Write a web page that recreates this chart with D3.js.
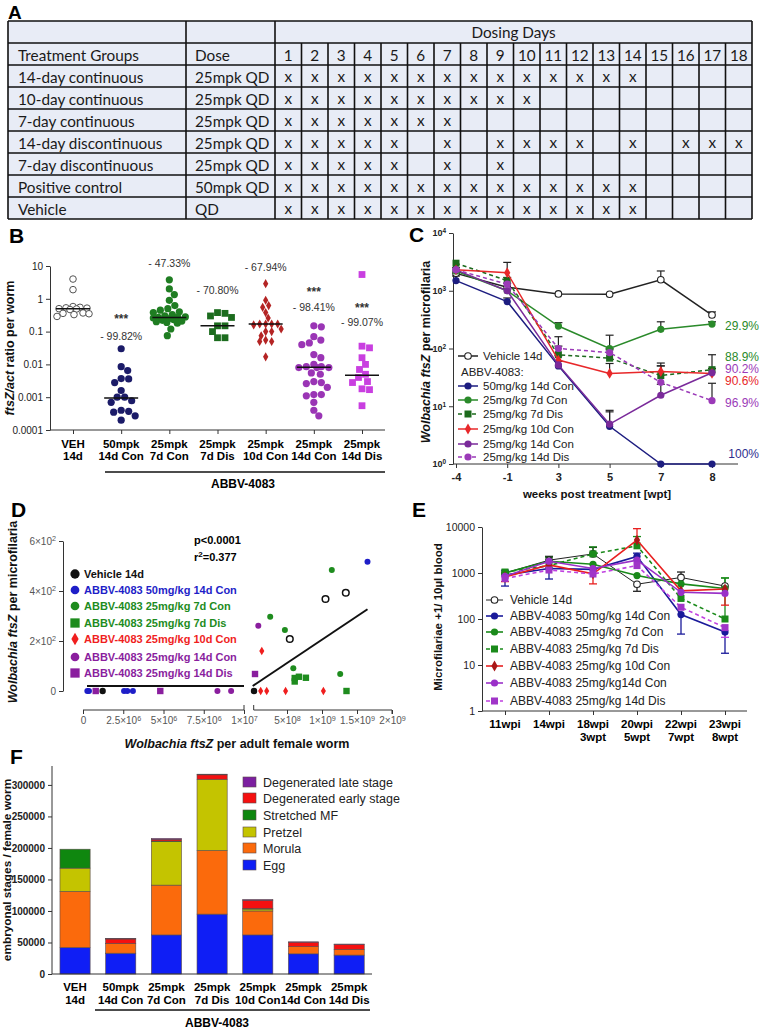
<!DOCTYPE html>
<html><head><meta charset="utf-8">
<script src="https://cdn.jsdelivr.net/npm/d3@7"></script>
<style>
body{margin:0;background:#fff;}
svg{display:block;font-family:"Liberation Sans",Arial,sans-serif;}
</style></head><body>
<svg id="c" width="760" height="1029"></svg>
<script>
// ================= DATA =================
// Panel A
const tblGroups = ["14-day continuous","10-day continuous","7-day continuous","14-day discontinuous","7-day discontinuous","Positive control","Vehicle"];
const tblDoses = ["25mpk QD","25mpk QD","25mpk QD","25mpk QD","25mpk QD","50mpk QD","QD"];
const tblDays = [1,2,3,4,5,6,7,8,9,10,11,12,13,14,15,16,17,18];
const tblSchedule = [
  [1,2,3,4,5,6,7,8,9,10,11,12,13,14],
  [1,2,3,4,5,6,7,8,9,10],
  [1,2,3,4,5,6,7],
  [1,2,3,4,5,7,9,10,11,12,14,16,17,18],
  [1,2,3,4,5,7,9],
  [1,2,3,4,5,6,7,8,9,10,11,12,13,14],
  [1,2,3,4,5,6,7,8,9,10,11,12,13,14]
];
// Panel B
const bCatLine1 = ["VEH","50mpk","25mpk","25mpk","25mpk","25mpk","25mpk"];
const bCatLine2 = ["14d","14d Con","7d Con","7d Dis","10d Con","14d Con","14d Dis"];
const bVEH = [4.0,1.9,0.58,0.55,0.53,0.52,0.5,0.49,0.47,0.37,0.36,0.35,0.33,0.29];
const b50Con14 = [0.03,0.0085,0.0065,0.0037,0.0036,0.0028,0.0016,0.001,0.001,0.00078,0.0007,0.0004,0.00037,0.00035,0.00027,0.0002];
const b25Con7 = [3.8,2.0,1.35,0.9,0.62,0.5,0.45,0.4,0.38,0.33,0.3,0.28,0.27,0.27,0.26,0.25,0.23,0.22,0.21,0.2,0.19,0.18,0.12,0.075];
const b25Dis7 = [0.38,0.36,0.3,0.27,0.15,0.15,0.1,0.065,0.065];
const b25Con10 = [2.9,0.9,0.62,0.55,0.38,0.26,0.17,0.17,0.17,0.17,0.16,0.12,0.1,0.1,0.075,0.055,0.05,0.05,0.017];
const b25Con14 = [0.15,0.14,0.07,0.055,0.045,0.04,0.02,0.016,0.01,0.0085,0.0085,0.008,0.008,0.008,0.0055,0.005,0.003,0.0028,0.0026,0.002,0.0012,0.0012,0.0011,0.0007,0.0004,0.00027];
const b25Dis14 = [5.5,0.036,0.032,0.016,0.01,0.007,0.005,0.004,0.003,0.0028,0.0018,0.0017,0.00055];
const bMedians = [0.5,0.00095,0.27,0.15,0.17,0.0082,0.0047];
const bPercents = ["","- 99.82%","- 47.33%","- 70.80%","- 67.94%","- 98.41%","- 99.07%"];
const bStars = ["","***","","","","***","***"];
const bTickVals = [0.0001,0.001,0.01,0.1,1,10];
const bTickLabels = ["0.0001","0.001","0.01","0.1","1","10"];
// Panel C
const cTimes = ["-4","-1","3","5","7","8"];
const cNames = ["Vehicle 14d","50mg/kg 14d Con","25mg/kg 7d Con","25mg/kg 7d Dis","25mg/kg 10d Con","25mg/kg 14d Con","25mg/kg 14d Dis"];
const cVehicle = [2000,1150,880,870,1550,380];
const c50Con14 = [1500,650,50,4.5,1,1];
const c25Con7 = [2200,1000,245,100,215,265];
const c25Dis7 = [3000,1500,78,68,34,43];
const c25Con10 = [2300,2050,63,37,40,37];
const c25Con14 = [2300,1000,52,4.9,15.5,38];
const c25Dis14 = [2300,1300,100,85,26,12.5];
const cErrVehicle = [null,1350,null,null,2200,430];
const cErr50Con14 = [1800,750,60,8.5,null,null];
const cErr25Con7 = [2500,1100,280,170,290,290];
const cErr25Dis7 = [null,1700,160,95,56,78];
const cErr25Con10 = [null,3100,75,55,50,45];
const cErr25Con14 = [null,null,60,8,24,45];
const cErr25Dis14 = [null,null,110,100,50,25];
const cReduction = ["","100%","29.9%","88.9%","90.6%","90.2%","96.9%"];
const cTickVals = [1,10,100,1000,10000];
// Panel D
const dNames = ["Vehicle 14d","ABBV-4083 50mg/kg 14d Con","ABBV-4083 25mg/kg 7d Con","ABBV-4083 25mg/kg 7d Dis","ABBV-4083 25mg/kg 10d Con","ABBV-4083 25mg/kg 14d Con","ABBV-4083 25mg/kg 14d Dis"];
const dVehicle = [[1.22e6,0],[2.9e7,0],[5.4e8,208],[1.05e9,368],[1.34e9,393]];
const d50Con14 = [[2.7e5,0],[3.7e5,0],[2.55e6,0],[2.75e6,0],[3.1e6,0],[1.65e9,517]];
const d25Con7 = [[2.6e8,297],[4.7e8,244],[5.9e8,91],[1.14e9,484],[1.26e9,68]];
const d25Dis7 = [[6.1e8,52],[6.1e8,38],[6.7e8,57],[7.7e8,53],[1.35e9,0]];
const d25Con10 = [[1.4e8,160],[1.24e8,0],[2.1e8,0],[4.8e8,0],[1.02e9,0]];
const d25Con14 = [[8.35e6,0],[9.2e6,0],[9e7,261]];
const d25Dis14 = [[7.9e5,0],[4.8e6,0],[4.3e7,68]];
const dFitLeft = [[2.5e5,20],[1e7,20]];
const dFitRight = [[1e7,20],[1.65e9,327]];
const dTicksLeft = [0,2.5e6,5e6,7.5e6,1e7];
const dTicksRight = [5e8,1e9,1.5e9,2e9];
const dTicksY = [0,200,400,600];
const dStats = ["p<0.0001","r","2","=0.377"];
// Panel E
const eTimes1 = ["11wpi","14wpi","18wpi","20wpi","22wpi","23wpi"];
const eTimes2 = ["","","3wpt","5wpt","7wpt","8wpt"];
const eNames = ["Vehicle 14d","ABBV-4083 50mg/kg 14d Con","ABBV-4083 25mg/kg 7d Con","ABBV-4083 25mg/kg 7d Dis","ABBV-4083 25mg/kg 10d Con","ABBV-4083 25mg/kg14d Con","ABBV-4083 25mg/kg 14d Dis"];
const eVehicle = [1000,1900,2600,570,800,520];
const e50Con14 = [900,1250,1200,2300,125,52];
const e25Con7 = [1000,1800,1550,880,580,460];
const e25Dis7 = [1050,1450,2600,3900,280,100];
const e25Con10 = [820,1500,960,5200,410,450];
const e25Con14 = [850,1800,1250,1900,380,360];
const e25Dis14 = [760,1160,950,1450,180,65];
const eLoVehicle = [null,null,null,400,null,null], eHiVehicle = [null,2300,3600,null,1050,null];
const eLo50Con14 = [520,740,null,1900,47,18], eHi50Con14 = [1150,null,null,2700,null,null];
const eLo25Con7 = [null,null,null,null,null,null], eHi25Con7 = [null,2200,null,null,null,780];
const eLo25Dis7 = [null,null,null,null,null,null], eHi25Dis7 = [null,null,3700,6200,null,780];
const eLo25Con10 = [650,null,580,null,null,200], eHi25Con10 = [null,null,null,9200,null,null];
const eLo25Con14 = [null,null,null,null,null,null], eHi25Con14 = [null,null,null,null,null,null];
const eLo25Dis14 = [null,null,null,null,null,40], eHi25Dis14 = [null,null,null,null,null,null];
const eTickVals = [1,10,100,1000,10000];
// Panel F
const fCats1 = ["VEH","50mpk","25mpk","25mpk","25mpk","25mpk","25mpk"];
const fCats2 = ["14d","14d Con","7d Con","7d Dis","10d Con","14d Con","14d Dis"];
const fKeys = ["Egg","Morula","Pretzel","Stretched MF","Degenerated early stage","Degenerated late stage"];
const fEgg = [42000,33000,62000,95000,62000,32000,30000];
const fMorula = [89000,15500,79000,101000,38000,11500,9000];
const fPretzel = [37000,0,69000,113000,3000,0,0];
const fStretched = [30000,0,1000,0,1000,0,0];
const fDegEarly = [0,7000,2500,7000,13000,7000,8000];
const fDegLate = [0,1000,1500,1000,1000,500,500];
const fTicks = [0,50000,100000,150000,200000,250000,300000];

// ================= DRAWING =================
const svg = d3.select("#c");
const AX = "#333";
function panelLabel(t,x,y){svg.append("text").attr("x",x).attr("y",y).attr("font-size",21).attr("font-weight","bold").attr("fill","#000").text(t);}
function vTitle(x,y,parts,size){
  const t=svg.append("text").attr("transform",`translate(${x},${y}) rotate(-90)`).attr("text-anchor","middle").attr("font-size",size).attr("font-weight","bold").attr("fill","#111");
  parts.forEach(([s,it])=>t.append("tspan").attr("font-style",it?"italic":"normal").text(s));
}
function hTitle(x,y,parts,size){
  const t=svg.append("text").attr("x",x).attr("y",y).attr("text-anchor","middle").attr("font-size",size).attr("font-weight","bold").attr("fill","#111");
  parts.forEach(([s,it])=>t.append("tspan").attr("font-style",it?"italic":"normal").text(s));
}
function styleAxis(g,size,weight){
  g.attr("font-family",'"Liberation Sans",Arial,sans-serif').attr("font-size",size).attr("font-weight",weight||"normal");
  g.selectAll("path,line").attr("stroke",AX).attr("stroke-width",1);
  g.selectAll("text").attr("fill","#222");
}
function supify(sel,base,exp){sel.text(null);sel.append("tspan").text(base);sel.append("tspan").attr("dy","-0.45em").attr("font-size","0.72em").text(exp);}
function sym(type,size){return d3.symbol().type(type).size(size)();}

// ---------- Panel A ----------
svg.append("text").attr("x",8).attr("y",19).attr("font-size",19).attr("font-weight","bold").text("A");
const aX0=8,aX1=752,aC1=186,aC2=275,aY0=21,aRH=22,nRows=9;
const dayX=d3.scaleBand().domain(tblDays).range([aC2,aX1]);
const rowY=d3.scaleBand().domain(d3.range(nRows)).range([aY0,aY0+nRows*aRH]);
const gA=svg.append("g").attr("font-family","Lato, 'Open Sans', sans-serif").attr("font-size",15.3).attr("fill","#1a1a1a");
gA.append("rect").attr("x",aX0).attr("y",aY0).attr("width",aX1-aX0).attr("height",nRows*aRH).attr("fill","#e8ecf6");
for(let i=0;i<=nRows;i++){const y=aY0+i*aRH;gA.append("line").attr("x1",aX0).attr("x2",aX1).attr("y1",y).attr("y2",y).attr("stroke","#111").attr("stroke-width",1.6);}
[aX0,aC1,aC2,aX1].forEach(x=>gA.append("line").attr("x1",x).attr("x2",x).attr("y1",aY0).attr("y2",aY0+nRows*aRH).attr("stroke","#111").attr("stroke-width",1.6));
tblDays.slice(1).forEach(d=>{const x=dayX(d);gA.append("line").attr("x1",x).attr("x2",x).attr("y1",aY0+aRH).attr("y2",aY0+nRows*aRH).attr("stroke","#111").attr("stroke-width",1.6);});
gA.append("text").attr("x",(aC2+aX1)/2).attr("y",rowY(0)+17).attr("text-anchor","middle").text("Dosing Days");
gA.append("text").attr("x",18).attr("y",rowY(1)+17.5).text("Treatment Groups");
gA.append("text").attr("x",195).attr("y",rowY(1)+17.5).text("Dose");
tblDays.forEach(d=>gA.append("text").attr("x",dayX(d)+dayX.bandwidth()/2).attr("y",rowY(1)+17.5).attr("text-anchor","middle").text(d));
tblGroups.forEach((g,i)=>{
  const y=rowY(i+2)+17.5;
  gA.append("text").attr("x",18).attr("y",y).text(g);
  gA.append("text").attr("x",195).attr("y",y).text(tblDoses[i]);
  tblSchedule[i].forEach(d=>gA.append("text").attr("x",dayX(d)+dayX.bandwidth()/2).attr("y",y-0.5).attr("text-anchor","middle").text("x"));
});

// ---------- Panel B ----------
panelLabel("B",9,243);
const bY=d3.scaleLog().domain([1e-4,10]).range([430,266]);
const bX=d3.scalePoint().domain(d3.range(7)).range([73,362]);
const gBy=svg.append("g").attr("transform","translate(50,0)").call(d3.axisLeft(bY).tickValues(bTickVals).tickFormat((d,i)=>bTickLabels[i]).tickSize(4).tickSizeOuter(0));
styleAxis(gBy,10);
const gBx=svg.append("g").attr("transform","translate(0,430)").call(d3.axisBottom(bX).tickFormat("").tickSize(4).tickSizeOuter(0));
gBx.select(".domain").attr("d","M50,0H385");
styleAxis(gBx,10);
vTitle(14,348,[["ftsZ/act",true],[" ratio per worm",false]],12.5);
bCatLine1.forEach((t,i)=>{
  svg.append("text").attr("x",bX(i)).attr("y",448).attr("text-anchor","middle").attr("font-size",11.5).attr("font-weight","bold").text(t);
  svg.append("text").attr("x",bX(i)).attr("y",460).attr("text-anchor","middle").attr("font-size",11.5).attr("font-weight","bold").text(bCatLine2[i]);
});
svg.append("line").attr("x1",105).attr("x2",385).attr("y1",472).attr("y2",472).attr("stroke","#111").attr("stroke-width",1.6);
svg.append("text").attr("x",243).attr("y",488).attr("text-anchor","middle").attr("font-size",12).attr("font-weight","bold").text("ABBV-4083");
const bSeries=[bVEH,b50Con14,b25Con7,b25Dis7,b25Con10,b25Con14,b25Dis14];
const bStyle=[
  {shape:"oc",color:"#555",r:3.3},{shape:"c",color:"#1b1b68",r:3.6},{shape:"c",color:"#1f7d22",r:3.6},{shape:"s",color:"#1c6c1e",r:3.6},
  {shape:"d",color:"#b42424",r:2.8},{shape:"c",color:"#9a35b5",r:3.6},{shape:"s",color:"#c93fe0",r:3.6}];
function swarm(vals,yS,cx,r,maxOff){
  const pts=vals.map(v=>({v,y:yS(v)})).sort((a,b)=>a.y-b.y);
  const placed=[];
  pts.forEach(p=>{
    let best=null,bestScore=-1,bestX=cx;
    for(let d=0;d<=maxOff&&best===null;d+=0.5){
      for(const s of (d===0?[1]:[1,-1])){
        const x=cx+s*d;
        const md=placed.length?d3.min(placed,q=>Math.hypot(q.x-x,q.y-p.y)):99;
        if(md>=2*r+0.3){best=x;break;}
        if(md>bestScore){bestScore=md;bestX=x;}
      }
    }
    p.x=best===null?bestX:best;placed.push(p);
  });
  return placed;
}
bSeries.forEach((vals,i)=>{
  const st=bStyle[i];const r=st.r;
  const pts=swarm(vals,bY,bX(i),r,16);
  const g=svg.append("g");
  pts.forEach(p=>{
    if(st.shape==="oc") g.append("circle").attr("cx",p.x).attr("cy",p.y).attr("r",3.3).attr("fill","#fff").attr("stroke",st.color).attr("stroke-width",1);
    else if(st.shape==="c") g.append("circle").attr("cx",p.x).attr("cy",p.y).attr("r",r).attr("fill",st.color);
    else if(st.shape==="s") g.append("rect").attr("x",p.x-3.4).attr("y",p.y-3.4).attr("width",6.8).attr("height",6.8).attr("fill",st.color);
    else g.append("path").attr("d",sym(d3.symbolDiamond,24)).attr("transform",`translate(${p.x},${p.y})`).attr("fill",st.color);
  });
  svg.append("line").attr("x1",bX(i)-17).attr("x2",bX(i)+17).attr("y1",bY(bMedians[i])).attr("y2",bY(bMedians[i])).attr("stroke","#111").attr("stroke-width",1.5);
});
const bPctY=[0,339.5,266.5,293.5,270.5,310.5,325.5];
const bStarY=[0,323,0,0,0,296,312];
bPercents.forEach((t,i)=>{if(t)svg.append("text").attr("x",bX(i)).attr("y",bPctY[i]).attr("text-anchor","middle").attr("font-size",10.5).attr("fill","#333").text(t);});
bStars.forEach((t,i)=>{if(t)svg.append("text").attr("x",bX(i)).attr("y",bStarY[i]).attr("text-anchor","middle").attr("font-size",12).attr("font-weight","bold").attr("fill","#333").text(t);});

// ---------- Panel C ----------
panelLabel("C",409,242);
const cX=d3.scalePoint().domain(cTimes).range([456,712]);
const cY=d3.scaleLog().domain([1,1e4]).range([464,233]);
const gCy=svg.append("g").attr("transform","translate(453,0)").call(d3.axisLeft(cY).tickValues(cTickVals).tickSize(4).tickSizeOuter(0));
styleAxis(gCy,9,"bold");
gCy.selectAll(".tick text").each(function(d){supify(d3.select(this),"10",String(Math.round(Math.log10(d))));});
const gCx=svg.append("g").attr("transform","translate(0,464)").call(d3.axisBottom(cX).tickSize(4).tickSizeOuter(0));
gCx.select(".domain").attr("d","M453,0H738");
styleAxis(gCx,11,"bold");
gCx.selectAll(".tick text").attr("dy","0.95em");
hTitle(597,498,[["weeks post treatment [wpt]",false]],11.5);
vTitle(430,352,[["Wolbachia ftsZ",true],[" per microfilaria",false]],12.5);
const cSeries=[cVehicle,c50Con14,c25Con7,c25Dis7,c25Con10,c25Con14,c25Dis14];
const cErr=[cErrVehicle,cErr50Con14,cErr25Con7,cErr25Dis7,cErr25Con10,cErr25Con14,cErr25Dis14];
const cStyle=[
  {color:"#222",shape:"oc",dash:null},{color:"#1d1d80",shape:"c",dash:null},{color:"#2a8a2a",shape:"c",dash:null},
  {color:"#1c6a1c",shape:"s",dash:"4,3"},{color:"#e8282a",shape:"d",dash:null},{color:"#7a2a9a",shape:"c",dash:null},{color:"#9b3ab8",shape:"c",dash:"4,3"}];
function marker(g,shape,x,y,color,sc){
  sc=sc||1;
  if(shape==="oc") g.append("circle").attr("cx",x).attr("cy",y).attr("r",3.3*sc).attr("fill","#fff").attr("stroke",color).attr("stroke-width",1.1);
  else if(shape==="c") g.append("circle").attr("cx",x).attr("cy",y).attr("r",3.6*sc).attr("fill",color);
  else if(shape==="s") g.append("rect").attr("x",x-3.5*sc).attr("y",y-3.5*sc).attr("width",7*sc).attr("height",7*sc).attr("fill",color);
  else g.append("path").attr("d",sym(d3.symbolDiamond,34*sc*sc)).attr("transform",`translate(${x},${y})`).attr("fill",color);
}
const cLine=d3.line().x((d,i)=>cX(cTimes[i])).y(d=>cY(d));
cSeries.forEach((vals,k)=>{
  const g=svg.append("g");
  cErr[k].forEach((e,i)=>{if(e!==null){const x=cX(cTimes[i]);
    g.append("line").attr("x1",x).attr("x2",x).attr("y1",cY(vals[i])).attr("y2",cY(e)).attr("stroke","#222").attr("stroke-width",1.2);
    g.append("line").attr("x1",x-4).attr("x2",x+4).attr("y1",cY(e)).attr("y2",cY(e)).attr("stroke","#222").attr("stroke-width",1.2);}});
});
cSeries.forEach((vals,k)=>{
  const st=cStyle[k];const g=svg.append("g");
  g.append("path").attr("d",cLine(vals)).attr("fill","none").attr("stroke",st.color).attr("stroke-width",1.5).attr("stroke-dasharray",st.dash);
  vals.forEach((v,i)=>marker(g,st.shape,cX(cTimes[i]),cY(v),st.color));
});
const cPctY=[0,458,330,361,385,373,407];
const cPctColor=["","#2e2e8e","#2a8a2a","#2a8a2a","#e8282a","#9b3ab8","#9b3ab8"];
cReduction.forEach((t,k)=>{if(t)svg.append("text").attr("x",759).attr("y",cPctY[k]).attr("text-anchor","end").attr("font-size",12).attr("fill",cPctColor[k]).text(t);});
const cLegY=[356,386,400,414,429,444,457];
cNames.forEach((n,k)=>{
  const st=cStyle[k];const y=cLegY[k];
  svg.append("line").attr("x1",458).attr("x2",478).attr("y1",y).attr("y2",y).attr("stroke",st.color).attr("stroke-width",1.5).attr("stroke-dasharray",st.dash);
  marker(svg,st.shape,468,y,st.color);
  svg.append("text").attr("x",483).attr("y",y+4).attr("font-size",11.5).attr("fill","#222").text(n);
});
svg.append("text").attr("x",461).attr("y",376).attr("font-size",11.5).attr("fill","#222").text("ABBV-4083:");

// ---------- Panel D ----------
panelLabel("D",11,517);
const dY=d3.scaleLinear().domain([0,600]).range([691,541]);
const dXL=d3.scaleLinear().domain([0,1e7]).range([83,244]);
const dXR=d3.scaleLinear().domain([0,2e9]).range([252,392]);
function expFmt(v){if(v===0)return null;const e=Math.floor(Math.log10(v)+1e-9);const m=+(v/Math.pow(10,e)).toFixed(2);return [m+"×10",String(e)];}
const gDy=svg.append("g").attr("transform","translate(63,0)").call(d3.axisLeft(dY).tickValues(dTicksY).tickSize(4).tickSizeOuter(0));
styleAxis(gDy,10);
gDy.selectAll(".tick text").attr("fill","#555").each(function(d){const f=expFmt(d);if(f)supify(d3.select(this),f[0],f[1]);});
const gDxl=svg.append("g").attr("transform","translate(0,710)").call(d3.axisBottom(dXL).tickValues(dTicksLeft).tickSize(4).tickSizeOuter(0));
const gDxr=svg.append("g").attr("transform","translate(0,710)").call(d3.axisBottom(dXR).tickValues(dTicksRight).tickSize(4).tickSizeOuter(0));
gDxr.select(".domain").attr("d",`M${dXR(1e7)+1},-5V0H${dXR(2e9)}V4`);
gDxl.select(".domain").attr("d",`M${dXL(0)},0H${dXL(1e7)}V-5`);
[gDxl,gDxr].forEach(g=>{styleAxis(g,10);g.selectAll(".tick text").attr("fill","#555").each(function(d){const f=expFmt(d);if(f)supify(d3.select(this),f[0],f[1]);});});
hTitle(237,748,[["Wolbachia ftsZ",true],[" per adult female worm",false]],12.5);
vTitle(17,612,[["Wolbachia ftsZ",true],[" per microfilaria",false]],12.5);
const dFitLine=(pts,xs)=>d3.line().x(d=>xs(d[0])).y(d=>dY(d[1]))(pts);
svg.append("path").attr("d",dFitLine(dFitLeft,dXL)).attr("stroke","#111").attr("stroke-width",2).attr("fill","none");
svg.append("path").attr("d",dFitLine(dFitRight,dXR)).attr("stroke","#111").attr("stroke-width",2).attr("fill","none");
const dSeries=[dVehicle,d50Con14,d25Con7,d25Dis7,d25Con10,d25Con14,d25Dis14];
const dStyle=[{c:"#111",s:"v"},{c:"#1e1ec8",s:"c"},{c:"#1e8c1e",s:"c"},{c:"#1e8c1e",s:"s"},{c:"#f01e1e",s:"d"},{c:"#8a1e9e",s:"c"},{c:"#8a1e9e",s:"s"}];
function dMark(g,st,x,y,open,sc){
  sc=sc||1;
  if(st.s==="v"){ if(open) g.append("circle").attr("cx",x).attr("cy",y).attr("r",3.3*sc).attr("fill","#fff").attr("stroke",st.c).attr("stroke-width",1.5);
                  else g.append("circle").attr("cx",x).attr("cy",y).attr("r",3.2*sc).attr("fill",st.c);}
  else if(st.s==="c") g.append("circle").attr("cx",x).attr("cy",y).attr("r",3*sc).attr("fill",st.c);
  else if(st.s==="s") g.append("rect").attr("x",x-3.2*sc).attr("y",y-3.2*sc).attr("width",6.4*sc).attr("height",6.4*sc).attr("fill",st.c);
  else g.append("path").attr("d",sym(d3.symbolDiamond,22*sc*sc)).attr("transform",`translate(${x},${y})`).attr("fill",st.c);
}
dSeries.forEach((pts,k)=>{
  const g=svg.append("g");
  pts.forEach(([xv,yv])=>{const xs=xv<1e7?dXL:dXR;dMark(g,dStyle[k],xs(xv),dY(yv),yv>0);});
});
const dLegY=[574,590,606,623,639,657,673];
dNames.forEach((n,k)=>{
  dMark(svg,dStyle[k],75,dLegY[k],false,1.45);
  svg.append("text").attr("x",84).attr("y",dLegY[k]+4).attr("font-size",11).attr("font-weight","bold").attr("fill",dStyle[k].c).text(n);
});
svg.append("text").attr("x",194).attr("y",544).attr("font-size",11).attr("font-weight","bold").text(dStats[0]);
const rt=svg.append("text").attr("x",194).attr("y",561).attr("font-size",11).attr("font-weight","bold");
rt.append("tspan").text(dStats[1]);rt.append("tspan").attr("dy",-4).attr("font-size",8).text(dStats[2]);rt.append("tspan").attr("dy",4).text(dStats[3]);

// ---------- Panel E ----------
panelLabel("E",412,517);
const eX=d3.scalePoint().domain(eTimes1).range([505,725]);
const eY=d3.scaleLog().domain([1,1e4]).range([711,527]);
const gEy=svg.append("g").attr("transform","translate(482,0)").call(d3.axisLeft(eY).tickValues(eTickVals).tickFormat(d3.format("d")).tickSize(4).tickSizeOuter(0));
styleAxis(gEy,10.5);
const gEx=svg.append("g").attr("transform","translate(0,711)").call(d3.axisBottom(eX).tickFormat("").tickSize(4).tickSizeOuter(0));
gEx.select(".domain").attr("d","M482,0H747");
styleAxis(gEx,11);
eTimes1.forEach((t,i)=>{
  svg.append("text").attr("x",eX(t)).attr("y",728).attr("text-anchor","middle").attr("font-size",11.5).attr("font-weight","bold").text(t);
  if(eTimes2[i]) svg.append("text").attr("x",eX(t)).attr("y",741).attr("text-anchor","middle").attr("font-size",11.5).attr("font-weight","bold").text(eTimes2[i]);
});
vTitle(442,617,[["Microfilariae +1/ 10µl blood",false]],11.5);
const eSeries=[eVehicle,e50Con14,e25Con7,e25Dis7,e25Con10,e25Con14,e25Dis14];
const eLo=[eLoVehicle,eLo50Con14,eLo25Con7,eLo25Dis7,eLo25Con10,eLo25Con14,eLo25Dis14];
const eHi=[eHiVehicle,eHi50Con14,eHi25Con7,eHi25Dis7,eHi25Con10,eHi25Con14,eHi25Dis14];
const eStyle=[
  {color:"#222",shape:"oc",dash:null,w:1},{color:"#1a1a9a",shape:"c",dash:null,w:1.6},{color:"#1a8a1a",shape:"c",dash:null,w:1.6},
  {color:"#1a8a1a",shape:"s",dash:"4,3",w:1.6},{color:"#e82020",shape:"d",dash:null,w:1.6,mc:"#a81818"},{color:"#9a30c8",shape:"c",dash:null,w:1.6},{color:"#c040e0",shape:"s",dash:"4,3",w:1.6,mc:"#a035c8"}];
const eLine=d3.line().x((d,i)=>eX(eTimes1[i])).y(d=>eY(d));
eSeries.forEach((vals,k)=>{
  const st=eStyle[k];const g=svg.append("g");
  vals.forEach((v,i)=>{const x=eX(eTimes1[i]);
    [eLo[k][i],eHi[k][i]].forEach(e=>{if(e!==null){
      g.append("line").attr("x1",x).attr("x2",x).attr("y1",eY(v)).attr("y2",eY(e)).attr("stroke",st.color).attr("stroke-width",1.3);
      g.append("line").attr("x1",x-4).attr("x2",x+4).attr("y1",eY(e)).attr("y2",eY(e)).attr("stroke",st.color).attr("stroke-width",1.3);}});
  });
});
eSeries.forEach((vals,k)=>{
  const st=eStyle[k];const g=svg.append("g");
  g.append("path").attr("d",eLine(vals)).attr("fill","none").attr("stroke",st.color).attr("stroke-width",st.w).attr("stroke-dasharray",st.dash);
  vals.forEach((v,i)=>marker(g,st.shape,eX(eTimes1[i]),eY(v),st.mc||st.color));
});
const eLegY=[600,616,632,649,666,683,701];
eNames.forEach((n,k)=>{
  const st=eStyle[k];const y=eLegY[k];
  svg.append("line").attr("x1",486).attr("x2",503).attr("y1",y).attr("y2",y).attr("stroke",st.color).attr("stroke-width",st.w).attr("stroke-dasharray",st.dash);
  marker(svg,st.shape,494.5,y,st.mc||st.color);
  svg.append("text").attr("x",510).attr("y",y+4.3).attr("font-size",12).attr("fill","#222").text(n);
});

// ---------- Panel F ----------
panelLabel("F",10,764);
const fX=d3.scaleBand().domain(d3.range(7)).range([52.2,372]).paddingInner(0.34).paddingOuter(0.17);
const fY=d3.scaleLinear().domain([0,330000]).range([974,766]);
const fColors={"Egg":"#0f1ef5","Morula":"#fb6a0c","Pretzel":"#c4c400","Stretched MF":"#0f870f","Degenerated early stage":"#f51010","Degenerated late stage":"#7c1fa0"};
const fRows=d3.range(7).map(i=>({"Egg":fEgg[i],"Morula":fMorula[i],"Pretzel":fPretzel[i],"Stretched MF":fStretched[i],"Degenerated early stage":fDegEarly[i],"Degenerated late stage":fDegLate[i]}));
const fStack=d3.stack().keys(fKeys)(fRows);
fStack.forEach(layer=>{
  svg.append("g").selectAll("rect").data(layer).join("rect")
    .attr("x",(d,i)=>fX(i)).attr("width",fX.bandwidth())
    .attr("y",d=>fY(d[1])).attr("height",d=>fY(d[0])-fY(d[1]))
    .attr("fill",fColors[layer.key]).attr("stroke","#5a4a4a").attr("stroke-width",0.6);
});
const gFy=svg.append("g").attr("transform","translate(52,0)").call(d3.axisLeft(fY).tickValues(fTicks).tickFormat(d3.format("d")).tickSize(4).tickSizeOuter(0));
styleAxis(gFy,10,"bold");
gFy.select(".domain").attr("d","M0,974V766");
const gFx=svg.append("g").attr("transform","translate(0,974)").call(d3.axisBottom(fX).tickFormat("").tickSize(0).tickSizeOuter(0));
gFx.select(".domain").attr("d","M52,0H372");
styleAxis(gFx,10);
fCats1.forEach((t,i)=>{
  const x=fX(i)+fX.bandwidth()/2;
  svg.append("text").attr("x",x).attr("y",991).attr("text-anchor","middle").attr("font-size",11.5).attr("font-weight","bold").text(t);
  svg.append("text").attr("x",x).attr("y",1003.5).attr("text-anchor","middle").attr("font-size",11.5).attr("font-weight","bold").text(fCats2[i]);
});
svg.append("line").attr("x1",95).attr("x2",370).attr("y1",1010).attr("y2",1010).attr("stroke","#111").attr("stroke-width",1.6);
svg.append("text").attr("x",217).attr("y",1027).attr("text-anchor","middle").attr("font-size",12).attr("font-weight","bold").text("ABBV-4083");
vTitle(11,870,[["embryonal stages  / female worm",false]],11.8);
const fLegKeys=fKeys.slice().reverse();
const fLegY=[782,798,815,832,848,865];
fLegKeys.forEach((k,i)=>{
  svg.append("rect").attr("x",243).attr("y",fLegY[i]-5).attr("width",13).attr("height",10).attr("fill",fColors[k]).attr("stroke","#5a4a4a").attr("stroke-width",0.6);
  svg.append("text").attr("x",263).attr("y",fLegY[i]+4.5).attr("font-size",12.5).attr("fill","#222").text(k);
});
</script></body></html>
